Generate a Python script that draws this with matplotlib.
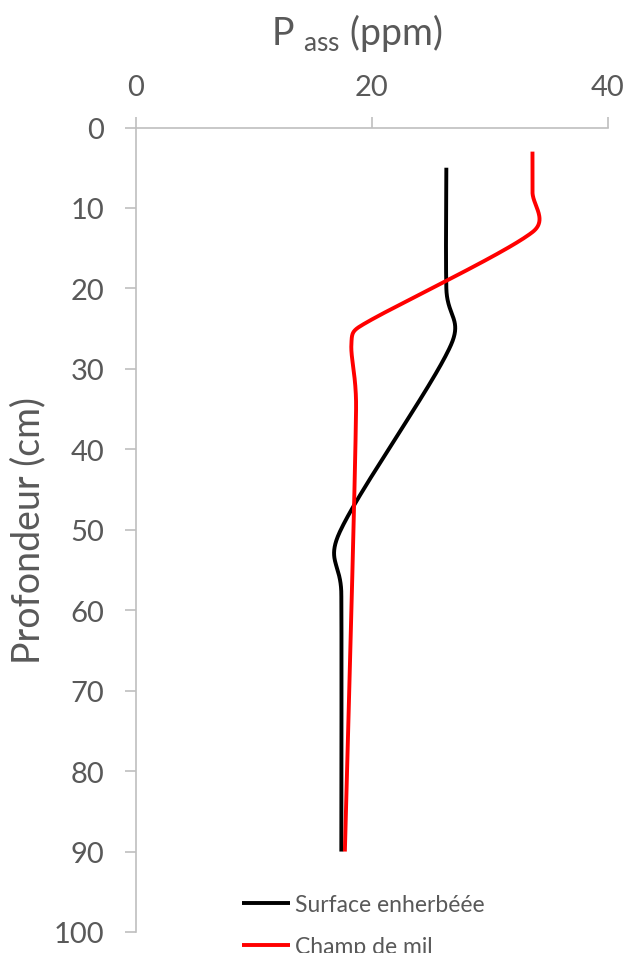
import numpy as np
import matplotlib.pyplot as plt

plt.rcParams['font.family'] = ['Lato', 'DejaVu Sans']
plt.rcParams['mathtext.fontset'] = 'custom'
plt.rcParams['mathtext.rm'] = 'Lato'

# profondeur (cm) et phosphore assimilable (ppm)
depth_herbe = [5, 20, 27, 50.5, 58, 90]
p_herbe = [26.3, 26.3, 26.7, 17.2, 17.4, 17.4]
depth_mil = [3, 8, 13, 24.7, 27, 35, 90]
p_mil = [33.6, 33.6, 33.6, 19.0, 18.25, 18.65, 17.7]

labels = ['Surface enherbéée', 'Champ de mil']
xticks = [0, 20, 40]
yticks = list(range(0, 101, 10))

grey_txt = '#595959'
grey_ax = '#BFBFBF'


def smooth(xs, ys, f=1/6, sx=11.8, sy=8.05, n=60):
    # excel-like smoothed line: bezier through the points,
    # control arms capped at half the segment length
    p = np.column_stack([np.array(xs) * sx, np.array(ys) * sy])
    pts = np.vstack([p[0], p, p[-1]])
    t = np.linspace(0, 1, n)[:, None]
    out = []
    for i in range(1, len(pts) - 2):
        p0, p1, p2, p3 = pts[i - 1:i + 3]
        d12 = np.hypot(*(p2 - p1))
        d02 = np.hypot(*(p2 - p0))
        d13 = np.hypot(*(p3 - p1))
        f1 = min(f, d12 / (2 * d02)) if d02 > 0 else 0
        f2 = min(f, d12 / (2 * d13)) if d13 > 0 else 0
        c1 = p1 + f1 * (p2 - p0)
        c2 = p2 - f2 * (p3 - p1)
        seg = (1 - t)**3 * p1 + 3 * (1 - t)**2 * t * c1 + 3 * (1 - t) * t**2 * c2 + t**3 * p2
        out.append(seg)
    out = np.vstack(out)
    return out[:, 0] / sx, out[:, 1] / sy


fig = plt.figure(figsize=(6.28, 9.54), dpi=100)
ax = fig.add_axes([136 / 628, 1 - 933 / 954, (608 - 136) / 628, (933 - 128.5) / 954])

x, y = smooth(p_herbe, depth_herbe)
ax.plot(x, y, color='black', lw=2.8, label=labels[0], solid_capstyle='butt')
x, y = smooth(p_mil, depth_mil)
ax.plot(x, y, color='#FF0000', lw=2.8, label=labels[1], solid_capstyle='butt')

ax.set_xlim(0, 40)
ax.set_ylim(100, 0)
ax.xaxis.tick_top()
ax.set_xticks(xticks)
ax.set_yticks(yticks)

for s in ['right', 'bottom']:
    ax.spines[s].set_visible(False)
for s in ['top', 'left']:
    ax.spines[s].set_color(grey_ax)
    ax.spines[s].set_linewidth(1.2)

ax.tick_params(axis='x', length=8, width=1.2, color=grey_ax, labelcolor=grey_txt,
               labelsize=21, pad=12)
ax.tick_params(axis='y', length=8, width=1.2, color=grey_ax, labelcolor=grey_txt,
               labelsize=21, pad=15)

fig.text(357 / 628, 1 - 45 / 954, r'P $\mathrm{_{ass}}$ (ppm)', fontsize=27,
         color=grey_txt, ha='center', va='baseline')
fig.text(28 / 628, 0.5 * ((1 - 933 / 954) + (1 - 128.5 / 954)), 'Profondeur (cm)',
         fontsize=27, color=grey_txt, rotation=90, ha='center', va='center')

ax.legend(loc='upper left', bbox_to_anchor=(242 / 628, 1 - 895 / 954),
          bbox_transform=fig.transFigure, frameon=False, fontsize=16.5,
          borderpad=0, borderaxespad=0, handlelength=2.1, handletextpad=0.22,
          labelspacing=0.9, labelcolor=grey_txt)

fig.savefig('out.png', dpi=100)
